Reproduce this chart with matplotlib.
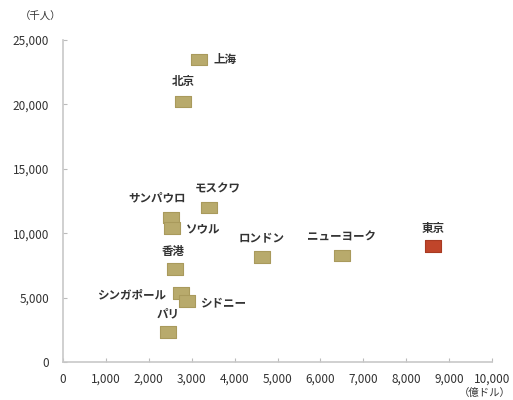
import matplotlib
matplotlib.use('Agg')
import matplotlib.pyplot as plt
from matplotlib.path import Path

plt.rcParams['font.family'] = ['Noto Sans CJK JP', 'DejaVu Sans']

# data: GDP (億ドル) vs population (千人)
cities = ['上海', '北京', 'モスクワ', 'サンパウロ', 'ソウル', 'ロンドン',
          'ニューヨーク', '東京', '香港', 'シンガポール', 'シドニー', 'パリ']
gdp = [3170, 2800, 3400, 2520, 2540, 4640, 6500, 8620, 2610, 2750, 2890, 2450]
population = [23500, 20200, 12000, 11200, 10400, 8150, 8300, 9000, 7220, 5360, 4740, 2330]
x_ticks = list(range(0, 10001, 1000))
y_ticks = list(range(0, 25001, 5000))

# label offsets in pixels (dx, dy, ha)
offsets = {
    '上海': (15, 0, 'left'), '北京': (0, 20, 'center'), 'モスクワ': (9, 19, 'center'),
    'サンパウロ': (-14, 20, 'center'), 'ソウル': (14, -1, 'left'),
    'ロンドン': (0, 19, 'center'), 'ニューヨーク': (0, 18, 'center'),
    '東京': (0, 18, 'center'), '香港': (-2, 18, 'center'),
    'シンガポール': (-15, -2, 'right'), 'シドニー': (13, -2, 'left'),
    'パリ': (0, 18, 'center'),
}

rect = Path([(-1, -0.72), (1, -0.72), (1, 0.72), (-1, 0.72), (-1, -0.72)])
colors = ['#c0452a' if c == '東京' else '#b8aa6c' for c in cities]
edges = ['#a83a22' if c == '東京' else '#a99a5c' for c in cities]

fig = plt.figure(figsize=(5.13, 4.0), dpi=100)
ax = fig.add_axes([63 / 513, 38 / 400, 429 / 513, 322 / 400])
ax.scatter(gdp, population, marker=rect, s=125, c=colors, edgecolors=edges,
           linewidths=0.8, zorder=3)

for c, x, y in zip(cities, gdp, population):
    dx, dy, ha = offsets[c]
    ax.annotate(c, (x, y), xytext=(dx, dy), textcoords='offset pixels',
                ha=ha, va='center', fontsize=8.3, color='#333333', weight='bold')

ax.set_xlim(0, 10000)
ax.set_ylim(0, 25000)
ax.set_xticks(x_ticks)
ax.set_yticks(y_ticks)
ax.set_xticklabels([f'{v:,}' for v in x_ticks])
ax.set_yticklabels([f'{v:,}' for v in y_ticks])
ax.tick_params(axis='both', labelsize=8.5, colors='#bbbbbb', labelcolor='#333333',
               length=3, direction='in', width=0.8)
ax.tick_params(axis='y', pad=10)
ax.tick_params(axis='x', pad=8)
for s in ['top', 'right']:
    ax.spines[s].set_visible(False)
for s in ['left', 'bottom']:
    ax.spines[s].set_color('#c8c8c8')
    ax.spines[s].set_linewidth(1.2)

fig.text(20 / 513, 1 - 17 / 400, '（千人）', fontsize=7.5, color='#333333',
         ha='left', va='center')
fig.text(1 - 2 / 513, 1 - 393 / 400, '（億ドル）', fontsize=7.5, color='#333333',
         ha='right', va='center')

fig.savefig('out.png', dpi=100)
